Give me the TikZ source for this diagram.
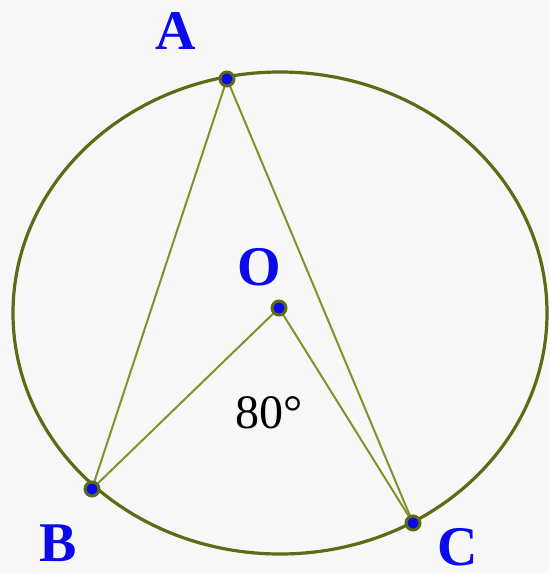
\documentclass[tikz,border=0pt]{standalone}
\usepackage{fontspec}
\setmainfont{Liberation Serif}
\usepackage{tikz}
\definecolor{rimcol}{RGB}{92,108,22}
\definecolor{chordcol}{RGB}{128,146,42}
\definecolor{ptblue}{RGB}{10,10,235}
\definecolor{bgcol}{RGB}{247,247,247}
\tikzset{
    ptlabel/.style={anchor=base, inner sep=0pt, text=ptblue, font=\fontsize{56}{60}\selectfont\bfseries},
    anglabel/.style={anchor=base, inner sep=0pt, font=\fontsize{48}{52}\selectfont},
}

\begin{document}
\begin{tikzpicture}[x=1pt,y=-1pt]
    \fill[bgcol] (0,0) rectangle (549,573);
    \useasboundingbox (0,0) rectangle (549,573);
    \coordinate (O) at (279,308);
    \coordinate (A) at (227,79);
    \coordinate (B) at (92,489);
    \coordinate (C) at (413,523);
    \draw[rimcol, line width=3.2pt] (280,313) ellipse [x radius=267, y radius=241];
    \draw[chordcol, line width=2pt] (B) -- (A) -- (C);
    \draw[chordcol, line width=2pt] (B) -- (O) -- (C);
    \foreach \p in {A,B,C,O} {\filldraw[fill=ptblue, draw=rimcol, line width=3pt] (\p) circle (7pt);}
    \node[ptlabel] (lA) at (176,49) {A}; \node[ptlabel] (lO) at (259,285) {O};
    \node[ptlabel] (lB) at (58,561) {B}; \node[ptlabel] (lC) at (458,565) {C};
    \node[anglabel] (ang) at (269,428) {80°};
\end{tikzpicture}
\end{document}
